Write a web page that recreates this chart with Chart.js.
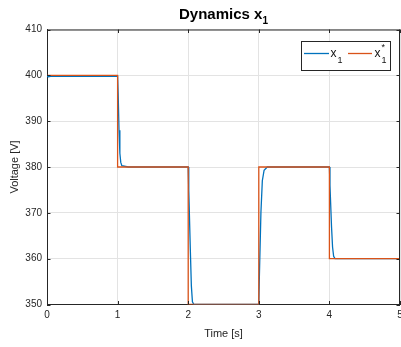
<!DOCTYPE html>
<html>
<head>
<meta charset="utf-8">
<script src="https://cdn.jsdelivr.net/npm/chart.js@4"></script>
<style>
  body { margin: 0; background: #fff; }
  #wrap { width: 401px; height: 347px; }
</style>
</head>
<body>
<div id="wrap"><canvas id="dyn" width="401" height="347"></canvas></div>
<script>
// reference x1* (step setpoints)
const refTime = [0, 1, 1, 2, 2, 3, 3, 4, 4, 5];
const refVolt = [400, 400, 380, 380, 350, 350, 380, 380, 360, 360];

const x1Time = [0, 0.02, 0.05, 1.0, 1.008, 1.02, 1.032, 1.045, 1.06, 1.15,
  2.0, 2.008, 2.03, 2.045, 2.06, 2.08,
  3.0, 3.008, 3.03, 3.05, 3.075, 3.12,
  4.0, 4.008, 4.03, 4.045, 4.06, 4.08, 5];
const x1Volt = [399.8, 399.7, 399.8, 399.8, 396, 388, 383, 381, 380.3, 380,
  380, 375, 362, 354, 350.6, 350,
  350, 356, 370, 377, 379.3, 380,
  380, 376, 367, 362.5, 360.5, 360, 360];

const xTicks = [0, 1, 2, 3, 4, 5];
const yTicks = [350, 360, 370, 380, 390, 400, 410];

const blue = '#0072BD';
const orange = '#D95319';
const axisCol = '#262626';
const fontFam = '"Liberation Sans", Arial, sans-serif';

function pts(t, v) { return t.map((x, i) => ({ x: x, y: v[i] })); }

// titulo, legenda, caixa e marcas internas no estilo MATLAB
const matlabDecor = {
  id: 'matlabDecor',
  afterDraw(chart) {
    const ctx = chart.ctx;
    const a = chart.chartArea;
    const xs = chart.scales.x, ys = chart.scales.y;
    ctx.save();
    ctx.strokeStyle = axisCol;
    ctx.lineWidth = 1;
    // caixa superior e direita
    ctx.beginPath();
    ctx.moveTo(a.left, a.top + 0.5); ctx.lineTo(a.right, a.top + 0.5);
    ctx.moveTo(a.right - 0.5, a.top); ctx.lineTo(a.right - 0.5, a.bottom);
    ctx.stroke();
    // marcas internas
    ctx.beginPath();
    xTicks.forEach(t => {
      const px = Math.round(xs.getPixelForValue(t)) + 0.5;
      ctx.moveTo(px, a.bottom); ctx.lineTo(px, a.bottom - 3.5);
      ctx.moveTo(px, a.top); ctx.lineTo(px, a.top + 3.5);
    });
    yTicks.forEach(v => {
      const py = Math.round(ys.getPixelForValue(v)) + 0.5;
      ctx.moveTo(a.left, py); ctx.lineTo(a.left + 3.5, py);
      ctx.moveTo(a.right, py); ctx.lineTo(a.right - 3.5, py);
    });
    ctx.stroke();

    // titulo com subscrito
    ctx.fillStyle = '#000';
    ctx.textBaseline = 'alphabetic';
    ctx.font = 'bold 15px ' + fontFam;
    const main = 'Dynamics x';
    const wMain = ctx.measureText(main).width;
    ctx.font = 'bold 10px ' + fontFam;
    const wSub = ctx.measureText('1').width;
    const cx = (a.left + a.right) / 2;
    let tx = cx - (wMain + wSub) / 2;
    ctx.font = 'bold 15px ' + fontFam;
    ctx.fillText(main, tx, 18.5);
    ctx.font = 'bold 10px ' + fontFam;
    ctx.fillText('1', tx + wMain, 24);

    // legenda
    const lx = 301.5, ly = 41.5, lw = 89, lh = 29;
    ctx.fillStyle = '#fff';
    ctx.fillRect(lx, ly, lw, lh);
    ctx.strokeStyle = axisCol;
    ctx.strokeRect(lx, ly, lw, lh);
    ctx.lineWidth = 1.3;
    ctx.strokeStyle = blue;
    ctx.beginPath(); ctx.moveTo(304, 53.5); ctx.lineTo(329, 53.5); ctx.stroke();
    ctx.strokeStyle = orange;
    ctx.beginPath(); ctx.moveTo(348, 53.5); ctx.lineTo(372, 53.5); ctx.stroke();
    ctx.fillStyle = '#111';
    ctx.font = '12px ' + fontFam;
    ctx.fillText('x', 330.5, 57);
    ctx.fillText('x', 374.5, 57);
    ctx.font = '9px ' + fontFam;
    ctx.fillText('1', 337.5, 63);
    ctx.fillText('1', 381.5, 63);
    ctx.fillText('*', 381.5, 50);
    ctx.restore();
  }
};

const ctx = document.getElementById('dyn').getContext('2d');
new Chart(ctx, {
  type: 'line',
  data: {
    datasets: [
      {
        label: 'x1',
        data: pts(x1Time, x1Volt),
        borderColor: blue,
        borderWidth: 1.3,
        pointRadius: 0,
        tension: 0,
        order: 1
      },
      {
        label: 'x1*',
        data: pts(refTime, refVolt),
        borderColor: orange,
        borderWidth: 1.3,
        pointRadius: 0,
        tension: 0,
        order: 0
      }
    ]
  },
  options: {
    responsive: false,
    animation: false,
    layout: { autoPadding: false, padding: { top: 29.5, right: 1, left: 0, bottom: 0 } },
    plugins: {
      legend: { display: false },
      tooltip: { enabled: false }
    },
    scales: {
      x: {
        type: 'linear',
        min: 0, max: 5,
        afterFit: s => { s.height = 42.5; s.paddingLeft = 0; s.paddingRight = 0; },
        afterBuildTicks: s => { s.ticks = xTicks.map(v => ({ value: v })); },
        grid: { color: '#e3e3e3', drawTicks: false },
        border: { color: axisCol, width: 1 },
        ticks: { color: axisCol, font: { family: fontFam, size: 10 }, padding: 5, maxRotation: 0 },
        title: { display: true, text: 'Time [s]', color: axisCol, font: { family: fontFam, size: 11 }, padding: { top: 0, bottom: 6 } }
      },
      y: {
        min: 350, max: 410,
        afterFit: s => { s.width = 47; s.paddingTop = 0; s.paddingBottom = 0; },
        afterBuildTicks: s => { s.ticks = yTicks.map(v => ({ value: v })); },
        grid: { color: '#e3e3e3', drawTicks: false },
        border: { color: axisCol, width: 1 },
        ticks: { color: axisCol, font: { family: fontFam, size: 10 }, padding: 5 },
        title: { display: true, text: 'Voltage [V]', color: axisCol, font: { family: fontFam, size: 11 }, padding: { top: 8, bottom: 0 } }
      }
    }
  },
  plugins: [matlabDecor]
});
</script>
</body>
</html>
